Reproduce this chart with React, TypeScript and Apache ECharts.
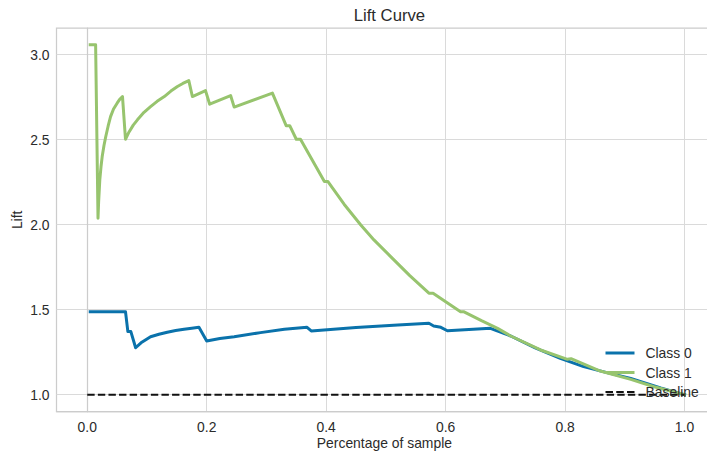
import React, { useEffect, useRef } from "react";
import * as echarts from "echarts";

// Lift per class, sampled along each curve (x = share of sample, y = lift)
const class0X = [0.005, 0.064, 0.068, 0.073, 0.081, 0.09, 0.106, 0.12, 0.134, 0.148, 0.162, 0.175, 0.187, 0.2, 0.222, 0.246, 0.29, 0.33, 0.368, 0.375, 0.45, 0.52, 0.572, 0.58, 0.592, 0.603, 0.675, 0.709, 0.75, 0.792, 0.831, 0.87, 0.91, 0.96, 1.0];
const class0Y = [1.488, 1.488, 1.371, 1.371, 1.276, 1.305, 1.341, 1.355, 1.367, 1.377, 1.385, 1.391, 1.396, 1.316, 1.33, 1.341, 1.365, 1.385, 1.396, 1.375, 1.395, 1.41, 1.42, 1.404, 1.396, 1.376, 1.39, 1.345, 1.275, 1.214, 1.165, 1.13, 1.096, 1.04, 1.0];

const class1X = [0.005, 0.014, 0.018, 0.019, 0.021, 0.023, 0.025, 0.028, 0.031, 0.035, 0.039, 0.044, 0.05, 0.054, 0.059, 0.064, 0.07, 0.077, 0.084, 0.095, 0.106, 0.117, 0.129, 0.14, 0.151, 0.16, 0.17, 0.176, 0.198, 0.205, 0.24, 0.246, 0.31, 0.333, 0.339, 0.35, 0.357, 0.397, 0.403, 0.43, 0.458, 0.48, 0.508, 0.54, 0.572, 0.579, 0.625, 0.63, 0.66, 0.687, 0.709, 0.759, 0.804, 0.81, 0.859, 0.91, 0.949, 1.0];
const class1Y = [3.057, 3.057, 2.038, 2.13, 2.263, 2.34, 2.4, 2.465, 2.518, 2.58, 2.635, 2.68, 2.714, 2.735, 2.753, 2.502, 2.545, 2.585, 2.616, 2.66, 2.694, 2.725, 2.753, 2.785, 2.812, 2.83, 2.847, 2.753, 2.788, 2.708, 2.759, 2.691, 2.773, 2.582, 2.582, 2.502, 2.502, 2.253, 2.253, 2.12, 1.998, 1.91, 1.812, 1.7, 1.597, 1.597, 1.488, 1.488, 1.435, 1.39, 1.345, 1.263, 1.208, 1.212, 1.139, 1.09, 1.047, 1.0];

const baselineX = [0, 1];
const baselineY = [1, 1];

const xTicks = [0, 0.2, 0.4, 0.6, 0.8, 1.0];
const yTicks = [1.0, 1.5, 2.0, 2.5, 3.0];

const seriesNames = ["Class 0", "Class 1", "Baseline"];

const zip = (xs: number[], ys: number[]) => xs.map((x, i) => [x, ys[i]]);

const FONT = "Liberation Sans";
const TEXT = "#2b2b2b";
const BLUE = "#0a72ab";
const GREEN = "#97c46e";
const BLACK = "#111111";

// legend swatches: a solid bar and a dashed bar
const SOLID_ICON = "path://M0,0H29V3H0Z";
const DASH_ICON = "path://M0,0H7.4V2H0Z M10.6,0H18V2H10.6Z M21.2,0H28.6V2H21.2Z";

export default function App() {
  const ref = useRef<HTMLDivElement>(null);

  useEffect(() => {
    if (!ref.current) return;
    const chart = echarts.init(ref.current, undefined, { renderer: "svg" });
    chart.setOption({
      animation: false,
      backgroundColor: "#ffffff",
      textStyle: { fontFamily: FONT },
      title: {
        text: "Lift Curve",
        left: 384.4,
        textAlign: "center",
        top: 2,
        textStyle: { fontFamily: FONT, fontSize: 16.7, fontWeight: "normal", color: TEXT },
      },
      grid: {
        left: 56.5,
        right: 7.7,
        top: 28,
        bottom: 39.3,
        outerBoundsMode: "none",
        containLabel: false,
        show: true,
        borderColor: "#cccccc",
        borderWidth: 1.25,
        backgroundColor: "#ffffff",
      },
      legend: {
        orient: "vertical",
        left: 605.5,
        top: 346,
        padding: 0,
        itemWidth: 29,
        itemHeight: 14,
        itemGap: 5.5,
        data: [
          { name: seriesNames[0], icon: SOLID_ICON, itemStyle: { color: BLUE } },
          { name: seriesNames[1], icon: SOLID_ICON, itemStyle: { color: GREEN } },
          { name: seriesNames[2], icon: DASH_ICON, itemStyle: { color: BLACK } },
        ],
        textStyle: { fontFamily: FONT, fontSize: 13.9, color: TEXT, padding: [0, 0, 0, 6] },
      },
      xAxis: {
        type: "value",
        min: -0.0515,
        max: 1.0465,
        name: "Percentage of sample",
        nameLocation: "middle",
        nameGap: 24,
        nameMoveOverlap: false,
        nameTextStyle: { fontFamily: FONT, fontSize: 13.9, color: TEXT },
        axisLine: { show: true, lineStyle: { color: "#cccccc", width: 1.25 } },
        axisTick: { show: false, customValues: xTicks },
        axisLabel: {
          customValues: xTicks,
          margin: 8,
          fontFamily: FONT,
          fontSize: 13.9,
          color: TEXT,
          formatter: (v: number) => v.toFixed(1),
        },
        splitLine: { show: true, lineStyle: { color: "#dadada", width: 1 } },
      },
      yAxis: {
        type: "value",
        min: 0.9,
        max: 3.156,
        name: "Lift",
        nameLocation: "middle",
        nameGap: 33,
        nameMoveOverlap: false,
        nameTextStyle: { fontFamily: FONT, fontSize: 13.9, color: TEXT },
        axisLine: { show: true, lineStyle: { color: "#cccccc", width: 1.25 } },
        axisTick: { show: false, customValues: yTicks },
        axisLabel: {
          customValues: yTicks,
          margin: 7,
          fontFamily: FONT,
          fontSize: 13.9,
          color: TEXT,
          formatter: (v: number) => v.toFixed(1),
        },
        splitLine: { show: true, lineStyle: { color: "#dadada", width: 1 } },
      },
      series: [
        {
          name: seriesNames[0],
          type: "line",
          data: zip(class0X, class0Y),
          showSymbol: false,
          symbol: "none",
          color: BLUE,
          lineStyle: { width: 3, color: BLUE, join: "round", cap: "square" },
        },
        {
          name: seriesNames[1],
          type: "line",
          data: zip(class1X, class1Y),
          showSymbol: false,
          symbol: "none",
          color: GREEN,
          lineStyle: { width: 3, color: GREEN, join: "round", cap: "square" },
        },
        {
          name: seriesNames[2],
          type: "line",
          data: zip(baselineX, baselineY),
          showSymbol: false,
          symbol: "none",
          color: BLACK,
          lineStyle: { width: 2, color: BLACK, type: [7.4, 3.2] },
        },
      ],
    });
    return () => chart.dispose();
  }, []);

  return (
    <div style={{ position: "absolute", left: 0, top: 0, width: 707, height: 451, overflow: "hidden", background: "#fff" }}>
      <div ref={ref} style={{ width: 720, height: 451 }} />
    </div>
  );
}
